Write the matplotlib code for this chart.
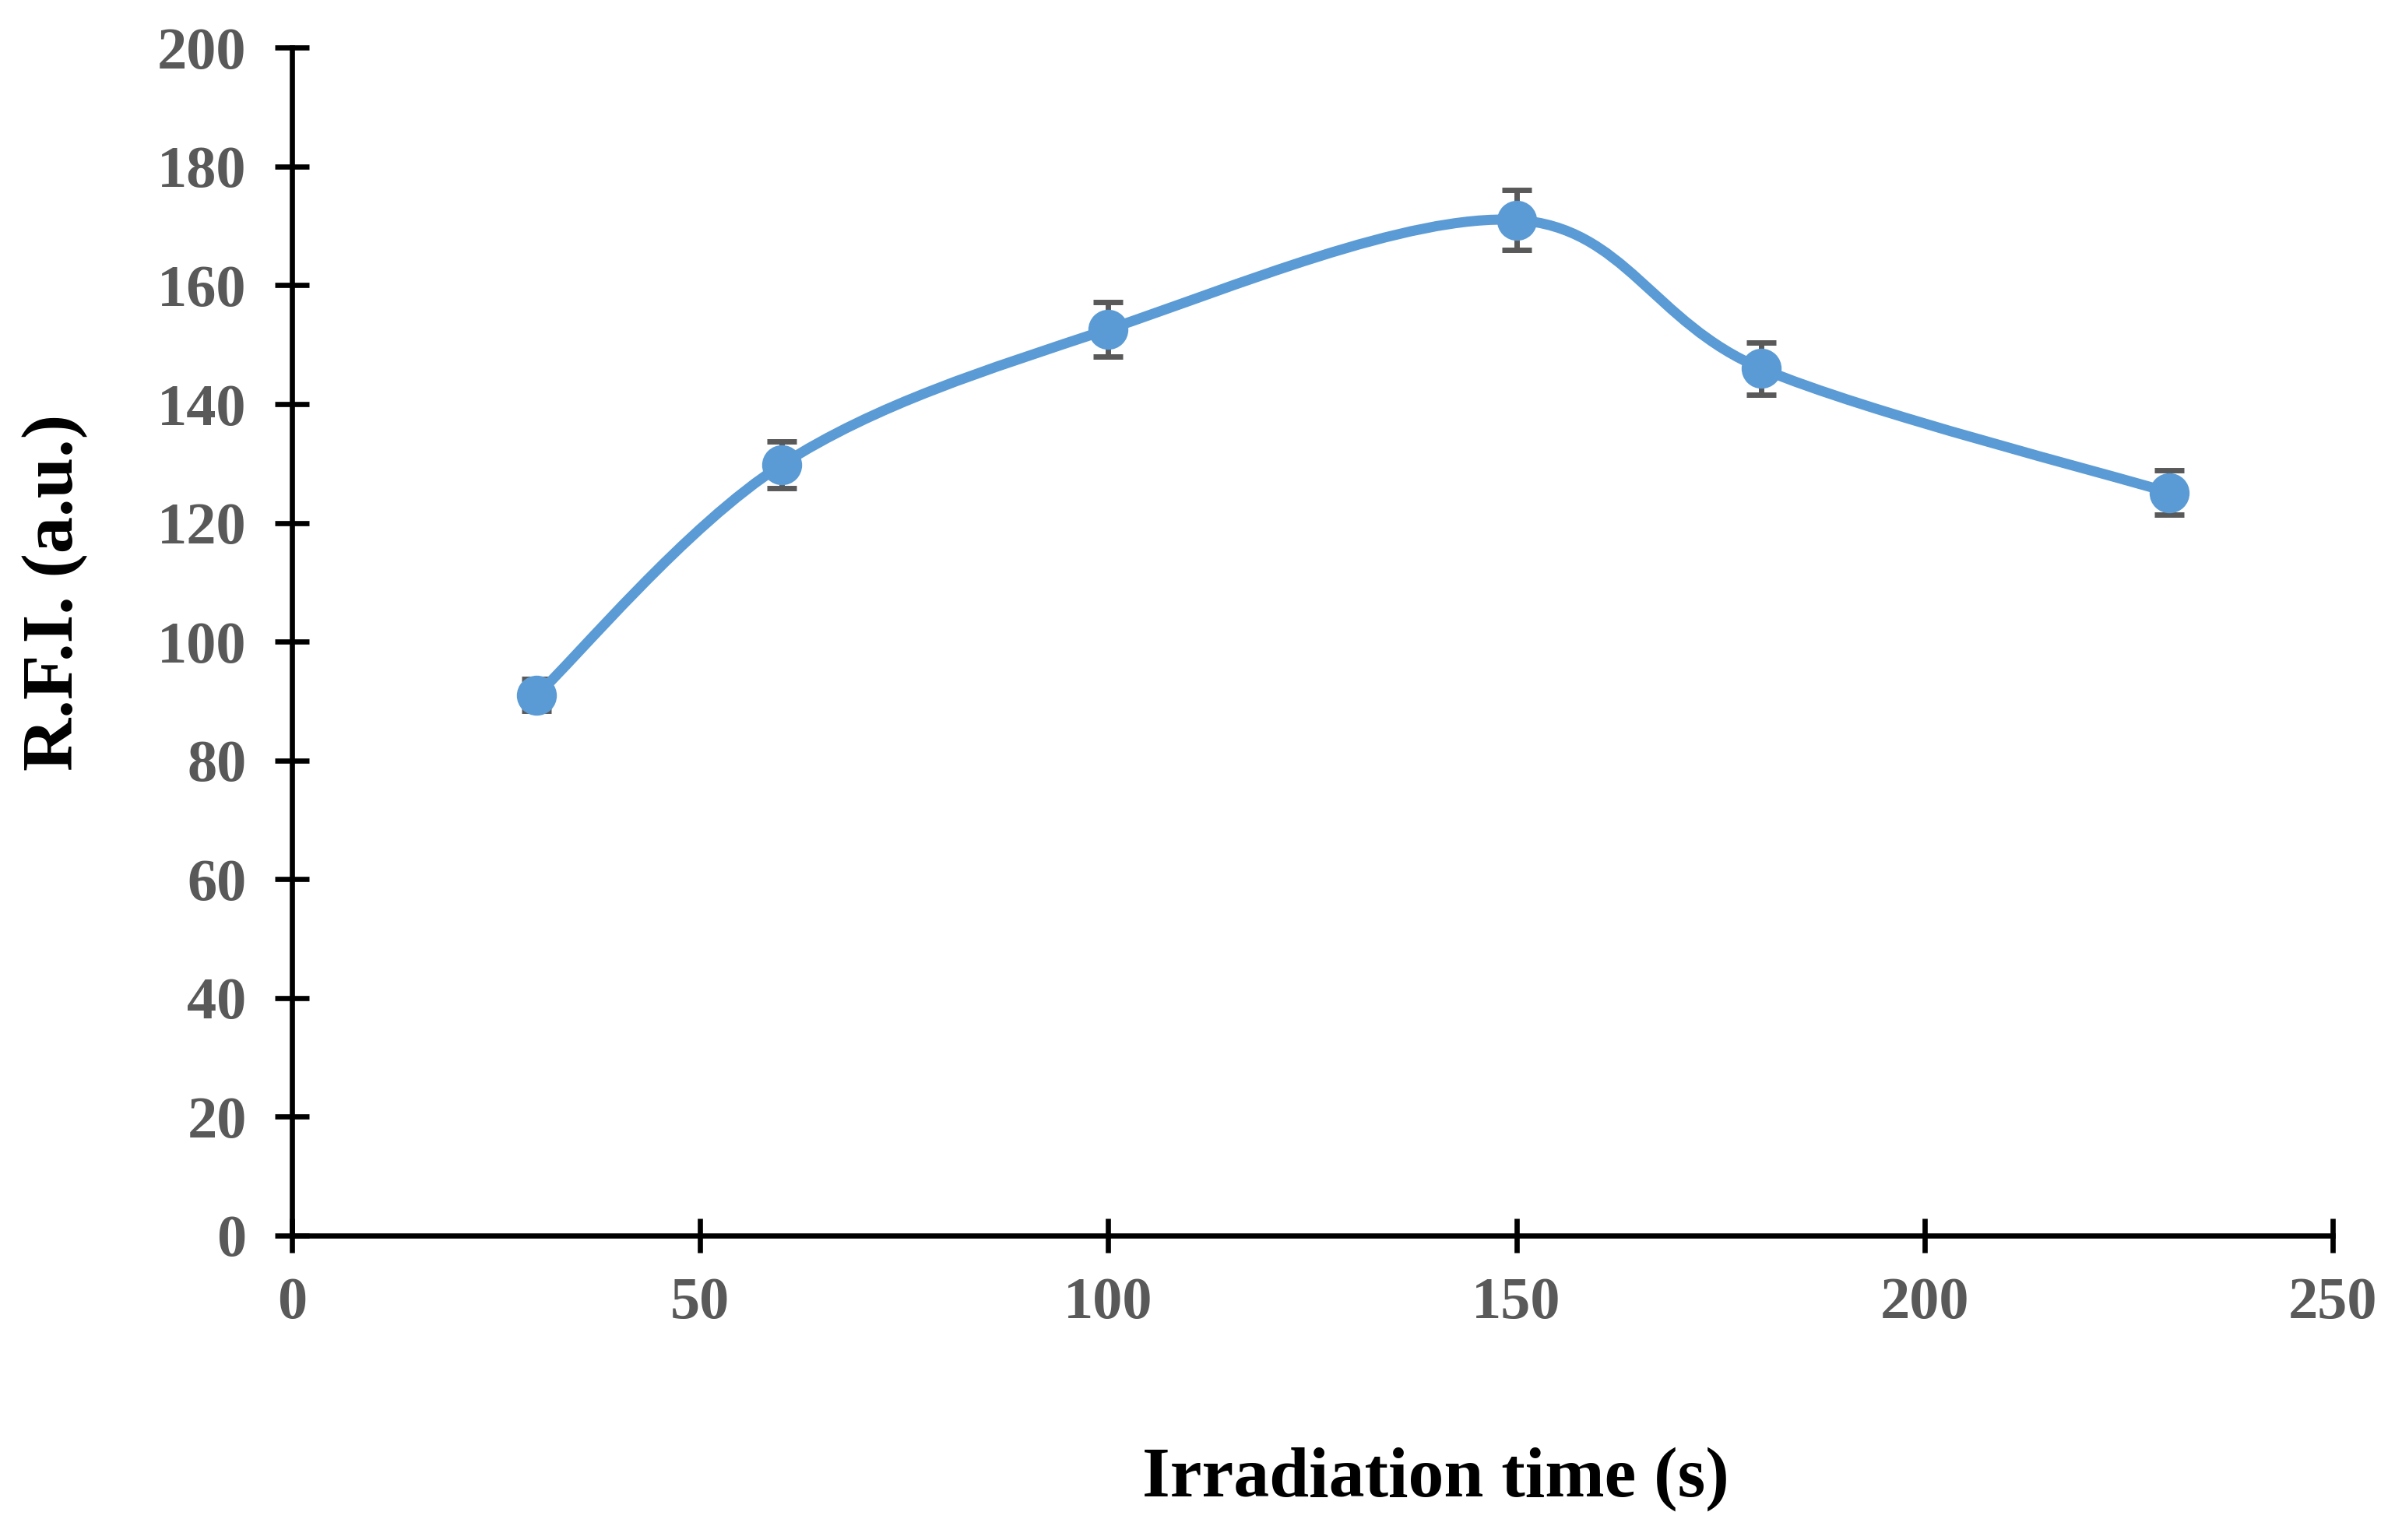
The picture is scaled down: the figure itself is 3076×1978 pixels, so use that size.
import numpy as np
import matplotlib
matplotlib.use("Agg")
import matplotlib.pyplot as plt
from matplotlib.path import Path
from matplotlib.patches import PathPatch

# data
time_s = [30, 60, 100, 150, 180, 230]
rfi = [91.0, 129.8, 152.6, 171.0, 146.0, 125.1]
rfi_err = [2.7, 3.9, 4.6, 5.1, 4.4, 3.7]

line_color = "#5B9BD5"
grey = "#595959"

plt.rcParams['font.family'] = ['Liberation Serif', 'DejaVu Serif']
plt.rcParams['font.weight'] = 'bold'

fig = plt.figure(figsize=(15.38, 9.89), dpi=200)
ax = fig.add_axes([0.1219, 0.1977, 0.8521, 0.7713])

# Excel style smoothed line (Bezier through the points)
pts = np.column_stack([time_s, rfi])
ext = np.vstack([pts[0], pts, pts[-1]])
verts = [tuple(pts[0])]
codes = [Path.MOVETO]
for i in range(len(pts) - 1):
    p0, p1, p2, p3 = ext[i], ext[i + 1], ext[i + 2], ext[i + 3]
    c1 = p1 + (p2 - p0) / 6.0
    c2 = p2 - (p3 - p1) / 6.0
    verts += [tuple(c1), tuple(c2), tuple(p2)]
    codes += [Path.CURVE4] * 3
ax.add_patch(PathPatch(Path(verts, codes), facecolor='none',
                       edgecolor=line_color, lw=4.7, capstyle='round', zorder=2))

ax.errorbar(time_s, rfi, yerr=rfi_err, fmt='none', ecolor=grey,
            elinewidth=2.5, capsize=7, capthick=2.5, zorder=1)
ax.plot(time_s, rfi, 'o', color=line_color, ms=17.5, zorder=3)

ax.set_xlim(0, 250)
ax.set_ylim(0, 200)
ax.set_xticks(range(0, 251, 50))
ax.set_yticks(range(0, 201, 20))

for s in ['top', 'right']:
    ax.spines[s].set_visible(False)
for s in ['left', 'bottom']:
    ax.spines[s].set_linewidth(2.4)
    ax.spines[s].set_color('black')

ax.tick_params(direction='inout', length=16, width=2.4, color='black',
               labelsize=27.5, labelcolor=grey)
ax.tick_params(axis='y', pad=13)
ax.tick_params(axis='x', pad=11)
for lab in ax.get_xticklabels() + ax.get_yticklabels():
    lab.set_fontweight('bold')

fig.text(940 / 1568, 1 - 968 / 1008, "Irradiation time (s)", fontsize=33,
         fontweight='bold', ha='center', va='center')
fig.text(36 / 1568, 1 - 388 / 1008, "R.F.I. (a.u.)", fontsize=34,
         fontweight='bold', ha='center', va='center', rotation=90)

fig.savefig("out.png", dpi=200)
